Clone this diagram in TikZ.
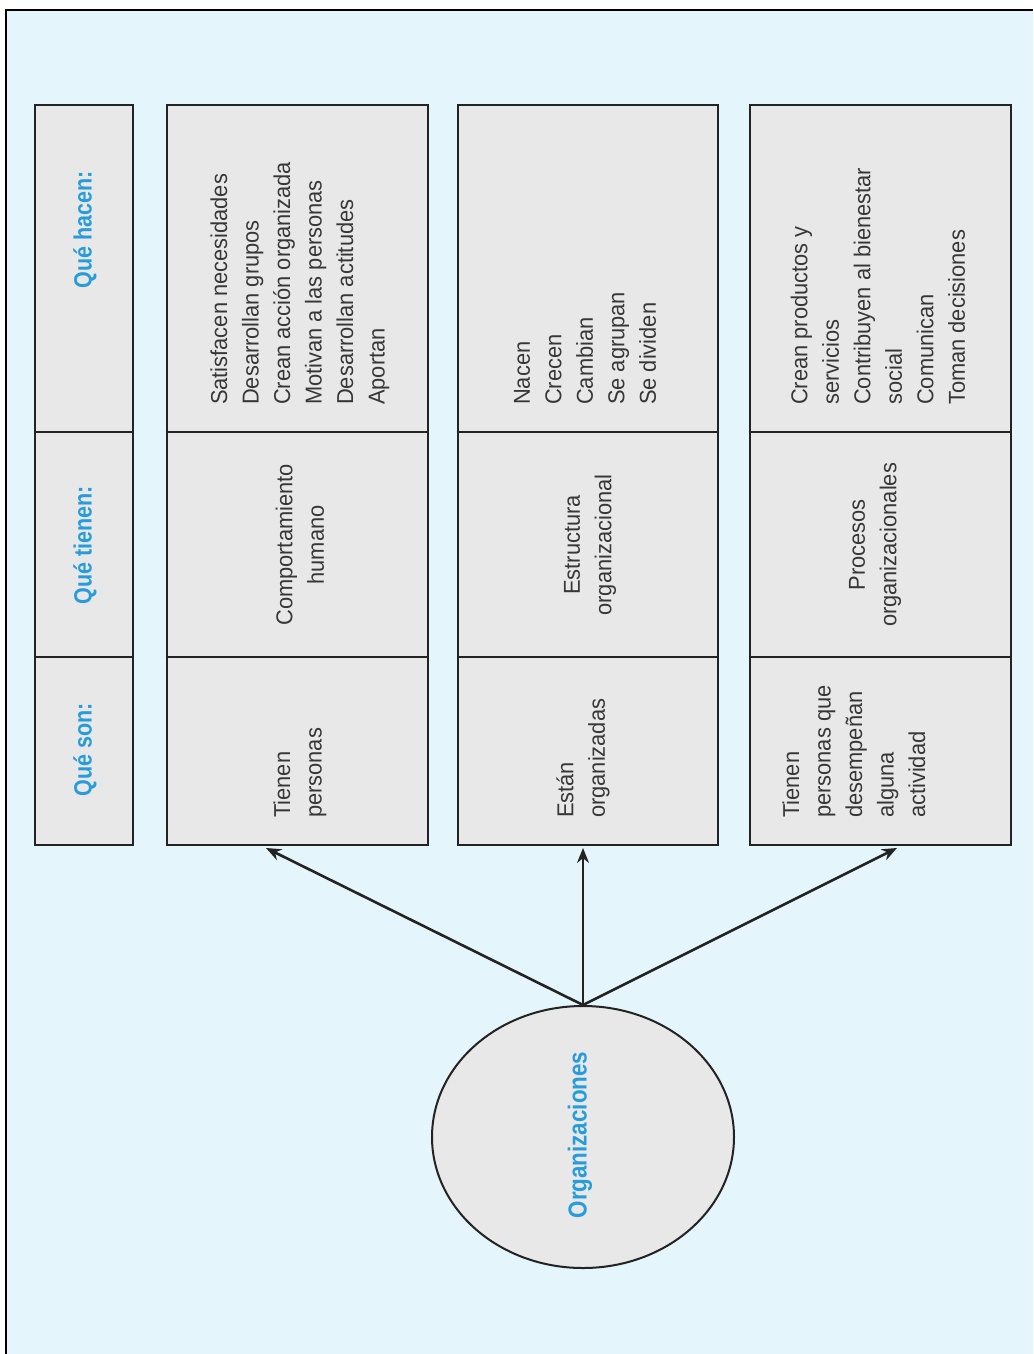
\documentclass[tikz,border=0pt]{standalone}
\usepackage{fontspec}
\setmainfont{Liberation Sans}[FakeStretch=0.95]
\newfontfamily\condfont{Liberation Sans}[FakeStretch=0.86]
\usetikzlibrary{shapes.geometric,arrows.meta}
\definecolor{bgblue}{RGB}{228,245,252}
\definecolor{boxgray}{RGB}{232,232,232}
\definecolor{hdblue}{RGB}{38,156,218}
\definecolor{txtgray}{RGB}{55,55,55}
\definecolor{edge}{RGB}{35,35,35}
\tikzset{
  panel/.style={draw=edge, line width=2.8pt, fill=boxgray, rectangle, inner sep=0pt, minimum height=740pt},
  divider/.style={draw=edge, line width=2pt},
  hdtext/.style={rotate=90, inner sep=0pt, text=hdblue, font=\condfont\bfseries\fontsize{25}{28}\selectfont},
  bodyl/.style={rotate=90, anchor=west, align=left, inner sep=0pt, text=txtgray, font=\fontsize{23}{31.5}\selectfont},
  bodyc/.style={rotate=90, anchor=center, align=center, inner sep=0pt, text=txtgray, font=\fontsize{23}{31.5}\selectfont},
  link/.style={draw=edge, line width=2.6pt, -{Stealth[length=15pt,width=12pt]}},
  orgnode/.style={ellipse, draw=edge, line width=2pt, fill=boxgray, minimum width=302pt, minimum height=262pt, inner sep=0pt}
}
\begin{document}
\begin{tikzpicture}[x=1pt,y=-1pt]
\useasboundingbox (0,0) rectangle (1033,1354);
\fill[white] (0,0) rectangle (1033,1354);
\fill[bgblue] (6,10) rectangle (1033,1354);
\draw[black, line width=2pt] (6,1354) -- (6,10) -- (1033,10);

% panels
\node[panel, minimum width=98pt] (hd) at (84,475) {};
\node[panel, minimum width=261pt] (r1) at (297.5,475) {};
\node[panel, minimum width=260pt] (r2) at (588,475) {};
\node[panel, minimum width=261pt] (r3) at (880.5,475) {};
\foreach \b in {hd,r1,r2,r3}{
  \draw[divider] (\b.west |- 0,432) -- (\b.east |- 0,432);
  \draw[divider] (\b.west |- 0,657) -- (\b.east |- 0,657);
}

% headers
\node[hdtext] (h1) at (85,750) {Qué son:};
\node[hdtext] (h2) at (85,545) {Qué tienen:};
\node[hdtext] (h3) at (85,230) {Qué hacen:};

% row 1
\node[bodyl] (a1) at (300,818) {Tienen\\personas};
\node[bodyc] (b1) at (300,545) {Comportamiento\\humano};
\node[bodyl] (c1) at (300,405) {Satisfacen necesidades\\Desarrollan grupos\\Crean acción organizada\\Motivan a las personas\\Desarrollan actitudes\\Aportan};

% row 2
\node[bodyl] (a2) at (583,818) {Están\\organizadas};
\node[bodyc] (b2) at (590,545) {Estructura\\organizacional};
\node[bodyl] (c2) at (585,405) {Nacen\\Crecen\\Cambian\\Se agrupan\\Se dividen};

% row 3
\node[bodyl] (a3) at (854,818) {Tienen\\personas que\\desempeñan\\alguna\\actividad};
\node[bodyc] (b3) at (875,545) {Procesos\\organizacionales};
\node[bodyl] (c3) at (878,405) {Crean productos y\\servicios\\Contribuyen al bienestar\\social\\Comunican\\Toman decisiones};

% ellipse
\node[orgnode] (org) at (583,1137) {};
\node[rotate=90, inner sep=0pt, text=hdblue, font=\condfont\bfseries\fontsize{26}{30}\selectfont] (orgt) at (580,1135) {Organizaciones};

% arrow targets
\coordinate (t1) at (266,848);
\coordinate (t2) at (583,848);
\coordinate (t3) at (897,848);
\draw[link] (org.north) -- (t1);
\draw[link, line width=1.6pt] (org.north) -- (t2);
\draw[link] (org.north) -- (t3);
\end{tikzpicture}
\end{document}
